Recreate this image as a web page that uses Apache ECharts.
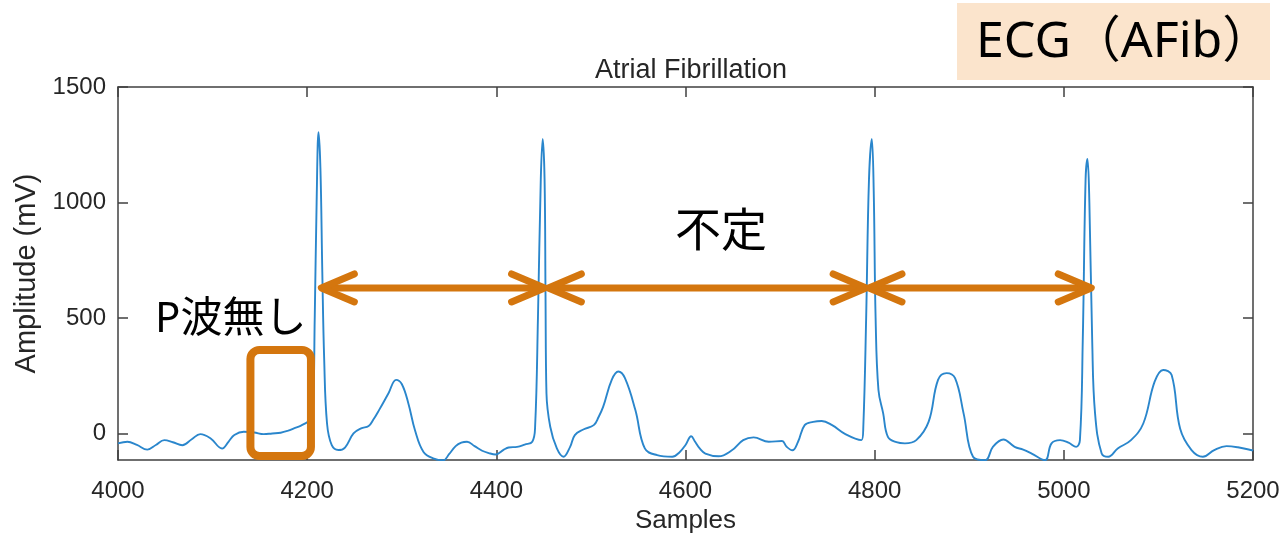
<!DOCTYPE html>
<html>
<head>
<meta charset="utf-8">
<script src="https://cdn.jsdelivr.net/npm/echarts@6/dist/echarts.min.js"></script>
<style>html,body{margin:0;padding:0;background:#fff;}#c{width:1284px;height:534px;}</style>
</head>
<body>
<div id="c"></div>
<script>
// ---- data ----
const samples = [4000,4010,4020,4031,4040,4049,4058,4068,4078,4087,4098,4110,4117,4123,4133,4144,4154,4163,4172,4180,4186,4193,4199,4203,4206,4208,4210,4212,4214,4216,4218,4221,4226,4233,4240,4249,4257,4265,4270,4276,4286,4294,4300,4307,4314,4323,4334,4344,4350,4357,4363,4369,4377,4385,4392,4399,4408,4413,4422,4430,4438,4441,4444,4447,4449,4451,4452,4453,4457,4464,4471,4478,4483,4492,4503,4508,4513,4522,4529,4536,4547,4557,4570,4586,4594,4600,4606,4610,4615,4621,4635,4649,4661,4672,4688,4702,4707,4713,4719,4726,4735,4744,4755,4769,4786,4788,4791,4794,4797,4799,4801,4804,4809,4814,4823,4832,4844,4857,4867,4876,4885,4894,4904,4917,4925,4936,4948,4957,4966,4980,4987,4996,5005,5013,5017,5020,5023,5025,5027,5030,5033,5040,5047,5057,5071,5084,5096,5105,5114,5123,5135,5147,5159,5172,5184,5199,5200];
const amplitude = [-43,-36,-50,-70,-50,-29,-38,-51,-25,-3,-22,-65,-35,-7,7,4,-3,0,3,12,22,33,46,55,88,500,1000,1304,1150,700,320,43,-51,-72,-61,0,22,32,60,101,174,232,214,130,14,-80,-109,-116,-90,-55,-40,-36,-55,-75,-85,-91,-70,-61,-58,-48,-36,29,500,1100,1275,1100,600,174,29,-65,-101,-58,-7,17,36,70,116,232,268,239,101,-65,-94,-101,-80,-50,-12,-35,-65,-87,-99,-73,-29,-17,-36,-33,-58,-73,-36,36,50,54,36,-3,-29,29,500,1100,1275,1050,500,188,87,-15,-38,-43,-29,50,232,261,239,87,-101,-116,-58,-26,-58,-70,-87,-116,-43,-29,-40,-58,-29,400,1100,1188,1000,400,87,-87,-101,-65,-29,43,224,275,253,20,-72,-101,-72,-55,-60,-73,-75];
const xTicks = [4000,4200,4400,4600,4800,5000,5200];
const yTicks = [0,500,1000,1500];
// annotations (data coordinates)
const rrArrows = [[4215,4451,630],[4455,4791,630],[4794,5029,630]];
const noPWaveBox = [[4140,361,4204,-98]];
const titleText = 'Atrial Fibrillation';
const xName = 'Samples';
const yName = 'Amplitude (mV)';

const ORANGE = '#D4760E';
const AX = '#404040';
const FONT = 'Liberation Sans, Arial, sans-serif';
const JP = '"Noto Sans", "Noto Sans CJK JP", sans-serif';

const chart = echarts.init(document.getElementById('c'), null, {renderer:'canvas'});
const lineData = samples.map((s,i)=>[s, amplitude[i]]);
const plain = v => String(v);

const baseX = {type:'value', min:4000, max:5200, interval:200, splitLine:{show:false}};
const baseY = {type:'value', min:-115, max:1500, splitLine:{show:false}};
const tick = {show:true, inside:true, length:10, lineStyle:{color:AX, width:1.5}};
const axl = {show:true, onZero:false, lineStyle:{color:AX, width:1.5}};

chart.setOption({
  animation:false,
  backgroundColor:'#fff',
  title:{text:titleText, left:686, top:52, textAlign:'center',
    textStyle:{fontFamily:FONT, fontWeight:'normal', fontSize:27, color:'#262626'}},
  grid:{left:118, right:31, top:87, bottom:74, containLabel:false, outerBoundsMode:'none'},
  xAxis:[
    Object.assign({}, baseX, {position:'bottom', name:xName, nameLocation:'middle', nameGap:48,
      nameTextStyle:{fontFamily:FONT, fontSize:26, color:'#262626'},
      axisLine:axl, axisTick:tick,
      axisLabel:{show:true, margin:19, fontFamily:FONT, fontSize:24, color:'#262626', formatter:plain}}),
    Object.assign({}, baseX, {position:'top', axisLine:axl, axisTick:tick, axisLabel:{show:false}})
  ],
  yAxis:[
    Object.assign({}, baseY, {position:'left', name:yName, nameLocation:'middle', nameGap:72,
      nameTextStyle:{fontFamily:FONT, fontSize:29, color:'#262626'},
      axisLine:axl,
      axisTick:Object.assign({}, tick, {customValues:yTicks}),
      axisLabel:{show:true, margin:12, fontFamily:FONT, fontSize:24, color:'#262626', customValues:yTicks, formatter:plain}}),
    Object.assign({}, baseY, {position:'right', axisLine:axl,
      axisTick:Object.assign({}, tick, {customValues:yTicks}), axisLabel:{show:false}})
  ],
  series:[
    {type:'line', data:lineData, xAxisIndex:0, yAxisIndex:0, showSymbol:false, symbol:'none',
      smooth:0.4, clip:true,
      lineStyle:{color:'#2A86CC', width:1.9}},
    {type:'custom', xAxisIndex:0, yAxisIndex:0, clip:false, z:5,
      data:rrArrows,
      renderItem:function(params, api){
        const p1 = api.coord([api.value(0), api.value(2)]);
        const p2 = api.coord([api.value(1), api.value(2)]);
        const ax = 33, ay = 14;
        const st = {stroke:ORANGE, lineWidth:7, lineCap:'round', lineJoin:'round', fill:null};
        return {type:'group', children:[
          {type:'line', shape:{x1:p1[0]+3, y1:p1[1], x2:p2[0]-3, y2:p2[1]}, style:st},
          {type:'polyline', shape:{points:[[p1[0]+ax,p1[1]-ay],[p1[0],p1[1]],[p1[0]+ax,p1[1]+ay]]}, style:st},
          {type:'polyline', shape:{points:[[p2[0]-ax,p2[1]-ay],[p2[0],p2[1]],[p2[0]-ax,p2[1]+ay]]}, style:st}
        ]};
      }},
    {type:'custom', xAxisIndex:0, yAxisIndex:0, clip:false, z:5,
      data:noPWaveBox,
      renderItem:function(params, api){
        const a = api.coord([api.value(0), api.value(1)]);
        const b = api.coord([api.value(2), api.value(3)]);
        return {type:'rect', shape:{x:a[0], y:a[1], width:b[0]-a[0], height:b[1]-a[1], r:9},
          style:{stroke:ORANGE, lineWidth:8, fill:null}};
      }}
  ],
  graphic:[
    {type:'rect', left:957, top:3, shape:{width:313, height:77}, style:{fill:'#FBE4CC'}, z:10},
    {type:'text', left:976, top:18, z:11, style:{text:'ECG（AFib）', fontFamily:JP, fontSize:50, fill:'#000'}},
    {type:'text', left:155, top:299, z:11, style:{text:'P波無し', fontFamily:JP, fontSize:42, fill:'#000'}},
    {type:'text', left:675, top:210, z:11, style:{text:'不定', fontFamily:JP, fontSize:46, fill:'#000'}}
  ]
});
</script>
</body>
</html>
